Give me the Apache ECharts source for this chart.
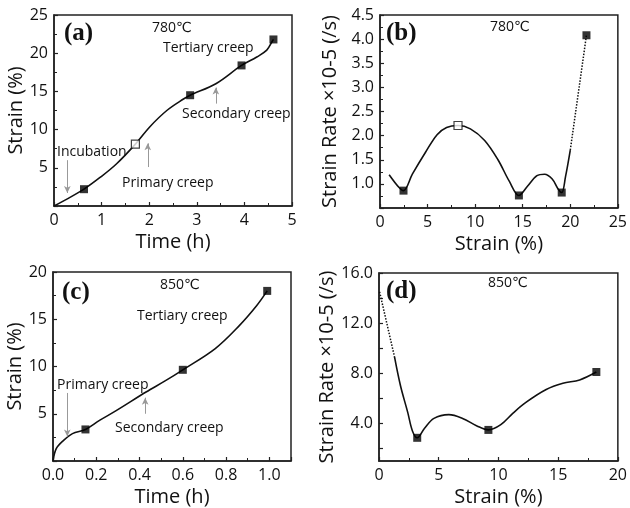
<!DOCTYPE html>
<html><head><meta charset="utf-8">
<script src="https://cdn.jsdelivr.net/npm/echarts@6/dist/echarts.min.js"></script>
<style>html,body{margin:0;padding:0;background:#fff}#c{width:630px;height:508px}</style>
</head><body><div id="c"></div>
<script>
// ---- Panel (a): strain vs time, 780℃
const curveA_x = [0, 0.3, 0.63, 0.96, 1.31, 1.71, 2.01, 2.37, 2.72, 2.86, 3.4, 3.94, 4.26, 4.47, 4.58, 4.61];
const curveA_y = [0, 1.0, 2.2, 3.7, 5.5, 8.1, 10.35, 12.5, 14.0, 14.5, 16.0, 18.4, 19.5, 20.4, 21.5, 21.8];
const markA_filled = [[0.63, 2.2], [2.86, 14.5], [3.94, 18.4], [4.61, 21.8]];
const markA_open = [[1.71, 8.1]];
const arrowsA = [[0.28, 6.0, 1.7], [1.97, 5.1, 8.2], [3.40, 13.4, 15.5]];
// ---- Panel (b): strain rate vs strain, 780℃
const curveB_x = [0.96, 1.98, 2.47, 3.4, 4.8, 6.0, 7.0, 8.2, 9.5, 11.0, 12.4, 13.6, 14.6, 15.5, 16.5, 17.3, 18.1, 18.7, 19.1, 19.5, 20.0];
const curveB_y = [1.19, 0.93, 0.86, 1.2, 1.66, 2.02, 2.17, 2.21, 2.14, 1.9, 1.5, 1.05, 0.76, 0.95, 1.17, 1.2, 1.1, 0.9, 0.82, 1.15, 1.7];
const dottedB = [[20.0, 1.7], [21.7, 4.08]];
const markB_filled = [[2.47, 0.86], [14.6, 0.76], [19.1, 0.82], [21.7, 4.08]];
const markB_open = [[8.2, 2.21]];
// ---- Panel (c): strain vs time, 850℃
const curveC_x = [0, 0.015, 0.045, 0.09, 0.15, 0.215, 0.29, 0.43, 0.52, 0.60, 0.75, 0.86, 0.94, 0.99];
const curveC_y = [0, 1.3, 2.1, 2.9, 3.34, 4.3, 5.3, 7.3, 8.5, 9.65, 11.9, 14.3, 16.4, 18.0];
const markC_filled = [[0.15, 3.34], [0.60, 9.65], [0.99, 18.0]];
const arrowsC = [[0.066, 7.2, 2.6], [0.426, 5.0, 6.7]];
// ---- Panel (d): strain rate vs strain, 850℃
const curveD_x = [1.3, 1.8, 2.4, 2.8, 3.2, 3.8, 4.6, 5.85, 7.0, 8.2, 9.16, 10.2, 11.2, 12.3, 14.0, 15.4, 16.8, 18.2];
const curveD_y = [9.3, 7.0, 4.9, 3.4, 2.85, 3.6, 4.4, 4.7, 4.4, 3.8, 3.48, 3.9, 4.8, 5.67, 6.7, 7.2, 7.47, 8.1];
const dottedD = [[0.05, 14.5], [1.3, 9.3]];
const markD_filled = [[3.2, 2.85], [9.16, 3.48], [18.2, 8.1]];
const ticksD_y = [2, 4, 6, 8, 10, 12, 14, 16];
const labelsD_y = [4, 8, 12, 16];

const FONT = '"Open Sans", "DejaVu Sans", sans-serif';
const zip = (xs, ys) => xs.map((x, i) => [x, ys[i]]);

function grid(l, t, w, h) {
  return { left: l, top: t, width: w, height: h, show: true, borderColor: '#222', borderWidth: 1.5, backgroundColor: 'transparent' };
}
const LBL = { color: '#111', fontSize: 16, fontFamily: FONT, margin: 6 };
function axisBase(extra) {
  return Object.assign({
    type: 'value', splitLine: { show: false },
    axisLine: { show: true, onZero: false, lineStyle: { color: '#222', width: 1.5 } },
    axisTick: { show: true, inside: true, length: 4, lineStyle: { color: '#222', width: 1.2 } },
    minorTick: { show: true, splitNumber: 2, length: 3, lineStyle: { color: '#222', width: 1 } },
    axisLabel: Object.assign({}, LBL),
    nameLocation: 'middle',
    nameTextStyle: { color: '#111', fontSize: 20, fontFamily: FONT }
  }, extra);
}
const f1 = v => v.toFixed(1);

function arrowLine(arr) {
  return {
    silent: true, symbol: ['none', 'arrow'], symbolSize: [5, 7],
    label: { show: false },
    lineStyle: { color: '#999', width: 1, type: 'solid' },
    data: arr.map(a => [{ coord: [a[0], a[1]] }, { coord: [a[0], a[2]] }])
  };
}
function curve(idx, data, dotted, extra) {
  return Object.assign({
    type: 'line', xAxisIndex: idx, yAxisIndex: idx, data: data,
    smooth: dotted ? false : 0.35,
    showSymbol: false, symbol: 'none',
    lineStyle: { color: '#111', width: dotted ? 1.5 : 1.6, type: dotted ? 'dotted' : 'solid' },
    z: 3
  }, extra || {});
}
function marks(idx, data, open) {
  return {
    type: 'scatter', xAxisIndex: idx, yAxisIndex: idx, data: data, symbol: 'rect', symbolSize: 8,
    itemStyle: open ? { color: '#fff', borderColor: '#111', borderWidth: 1.2 } : { color: '#000' }, z: 5
  };
}
function txt(text, x, y, size, bold, serif) {
  return { type: 'text', x: x, y: y, style: { text: text, fill: '#111', align: 'left', verticalAlign: 'middle',
    font: (bold ? 'bold ' : '') + size + 'px ' + (serif ? '"Liberation Serif", "DejaVu Serif", serif' : FONT) } };
}

const option = {
  animation: false,
  backgroundColor: '#fff',
  grid: [grid(54, 15, 238, 191), grid(380, 15, 241, 193), grid(53, 272, 238, 192), grid(379, 273, 242, 194)],
  xAxis: [
    axisBase({ gridIndex: 0, min: 0, max: 5, interval: 1, name: 'Time (h)', nameGap: 26 }),
    axisBase({ gridIndex: 1, min: 0, max: 25, interval: 5, name: 'Strain (%)', nameGap: 26 }),
    axisBase({ gridIndex: 2, min: 0, max: 1.1, interval: 0.2, name: 'Time (h)', nameGap: 26,
      axisLabel: Object.assign({}, LBL, { formatter: f1, showMaxLabel: false }) }),
    axisBase({ gridIndex: 3, min: 0, max: 20, interval: 5, name: 'Strain (%)', nameGap: 26 })
  ],
  yAxis: [
    axisBase({ gridIndex: 0, min: 0, max: 25, interval: 5, name: 'Strain (%)', nameGap: 26,
      axisLabel: Object.assign({}, LBL, { showMinLabel: false }) }),
    axisBase({ gridIndex: 1, min: 0.5, max: 4.5, interval: 0.5, name: 'Strain Rate ×10-5 (/s)', nameGap: 40,
      axisLabel: Object.assign({}, LBL, { showMinLabel: false, formatter: f1 }) }),
    axisBase({ gridIndex: 2, min: 0, max: 20, interval: 5, name: 'Strain (%)', nameGap: 26,
      axisLabel: Object.assign({}, LBL, { showMinLabel: false }) }),
    axisBase({ gridIndex: 3, min: 1, max: 16, name: 'Strain Rate ×10-5 (/s)', nameGap: 40,
      axisTick: { show: true, inside: true, length: 4, customValues: ticksD_y, lineStyle: { color: '#222', width: 1.2 } },
      minorTick: { show: false },
      axisLabel: Object.assign({}, LBL, { customValues: labelsD_y, formatter: f1 }) })
  ],
  series: [
    curve(0, zip(curveA_x, curveA_y), false, { markLine: arrowLine(arrowsA) }),
    marks(0, markA_filled, false), marks(0, markA_open, true),
    curve(1, zip(curveB_x, curveB_y), false),
    curve(1, dottedB, true),
    marks(1, markB_filled, false), marks(1, markB_open, true),
    curve(2, zip(curveC_x, curveC_y), false, { markLine: arrowLine(arrowsC) }),
    marks(2, markC_filled, false),
    curve(3, zip(curveD_x, curveD_y), false),
    curve(3, dottedD, true),
    marks(3, markD_filled, false)
  ],
  graphic: [
    txt('(a)', 64, 34, 25, true, true),
    txt('780℃', 152, 28, 14),
    txt('Tertiary creep', 163, 48, 14),
    txt('Secondary creep', 182, 114, 14),
    txt('Primary creep', 122, 183, 14),
    txt('Incubation', 57, 152, 14),
    txt('(b)', 386, 34, 25, true, true),
    txt('780℃', 490, 27, 14),
    txt('(c)', 62, 293, 25, true, true),
    txt('850℃', 160, 285, 14),
    txt('Tertiary creep', 137, 316, 14),
    txt('Primary creep', 57, 385, 14),
    txt('Secondary creep', 115, 428, 14),
    txt('(d)', 386, 292, 25, true, true),
    txt('850℃', 488, 283, 14)
  ]
};
echarts.init(document.getElementById('c'), null, { renderer: 'canvas' }).setOption(option);
</script></body></html>
